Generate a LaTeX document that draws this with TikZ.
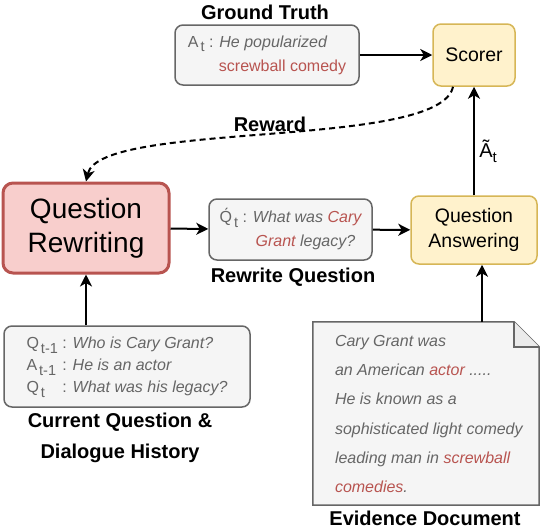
\documentclass[tikz,border=0pt]{standalone}
\usepackage{fontspec}
\setmainfont{Liberation Sans}
\usetikzlibrary{arrows.meta,positioning}

\definecolor{greyfill}{HTML}{F5F5F5}
\definecolor{greydraw}{HTML}{666666}
\definecolor{redfill}{HTML}{F8CECC}
\definecolor{reddraw}{HTML}{B85450}
\definecolor{yellowfill}{HTML}{FFF2CC}
\definecolor{yellowdraw}{HTML}{D6B656}

\newcommand{\lowsub}[1]{\hspace{2pt}\raisebox{-4.5pt}{\fontsize{14.5}{16}\selectfont #1}}
\newcommand{\hl}[1]{\textcolor{reddraw}{#1}}

\tikzset{
	greybox/.style = {draw = greydraw, fill = greyfill, rounded corners = 8pt, line width = 1.5pt,
		text = greydraw, align = left, inner sep = 0pt, font = \fontsize{16}{24}\selectfont},
	yellowbox/.style = {draw = yellowdraw, fill = yellowfill, rounded corners = 8pt, line width = 1.5pt,
		align = center, inner sep = 0pt, font = \fontsize{19.5}{25}\selectfont},
	redbox/.style = {draw = reddraw, fill = redfill, rounded corners = 10pt, line width = 3pt,
		align = center, inner sep = 0pt, font = \fontsize{28}{34}\selectfont},
	caption/.style = {font = \bfseries\fontsize{20}{31}\selectfont, align = center},
	flow/.style = {line width = 2pt, -{Stealth[length = 12pt, width = 12pt, inset = 3.5pt]}}
}

\begin{document}
\begin{tikzpicture}[x = 1pt, y = -1pt]
	\useasboundingbox (0,0) rectangle (540,528);

	% boxes
	\node[greybox, minimum width = 184pt, minimum height = 60pt] (truth) at (267,55)
		{A\lowsub{t} : \textit{He popularized}\\ \hspace*{31pt}\hl{screwball comedy}};
	\node[yellowbox, minimum width = 82pt, minimum height = 62pt] (scorer) at (474,55) {Scorer};
	\node[redbox, minimum width = 166pt, minimum height = 90pt] (rewriting) at (86,228)
		{Question\\Rewriting};
	\node[greybox, minimum width = 163pt, minimum height = 61pt] (rewritten) at (290.5,229.5)
		{\'Q\lowsub{t} : \textit{What was \hl{Cary}}\\ \hspace*{36pt}\textit{\hl{Grant} legacy?}};
	\node[yellowbox, minimum width = 126pt, minimum height = 68pt] (answering) at (474,230)
		{Question\\Answering};
	\node[greybox, minimum width = 246pt, minimum height = 81pt, font = \fontsize{16}{22}\selectfont] (history) at (127,366.5)
		{\begin{tabular}{@{}l@{ : }l@{}}
			Q\lowsub{t-1} & \textit{Who is Cary Grant?}\\
			A\lowsub{t-1} & \textit{He is an actor}\\
			Q\lowsub{t} & \textit{What was his legacy?}
		\end{tabular}};

	% evidence document
	\node[minimum width = 226pt, minimum height = 183pt, inner sep = 0pt] (doc) at (426,413.5) {};
	\draw[draw = greydraw, fill = greyfill, line width = 1.5pt]
		(doc.south west) -- (doc.north west) -- ([xshift = -25pt]doc.north east)
		-- ([yshift = -25pt]doc.north east) -- (doc.south east) -- cycle;
	\draw[draw = greydraw, fill = black!8, line width = 1.5pt]
		([xshift = -25pt]doc.north east) -- ([xshift = -25pt, yshift = -25pt]doc.north east)
		-- ([yshift = -25pt]doc.north east);
	\node[text = greydraw, align = left, font = \itshape\fontsize{16}{29.3}\selectfont, anchor = north west, inner sep = 0pt]
		(doctext) at ([xshift = 22pt, yshift = -13pt]doc.north west)
		{Cary Grant was\\ an American \hl{actor} .....\\ He is known as a\\
		 sophisticated light comedy\\ leading man in \hl{screwball}\\ \hl{comedies}.};

	% captions
	\node[caption] (truthcap) at (265,12) {Ground Truth};
	\node[caption] (rewrittencap) at (293,277) {Rewrite Question};
	\node[caption] (historycap) at (120,437.5) {Current Question \&\\Dialogue History};
	\node[caption] (doccap) at (425,518) {Evidence Document};

	% connectors
	\draw[flow] (truth) -- (scorer);
	\draw[flow] (rewriting) -- (rewritten);
	\draw[flow] (rewritten) -- (answering);
	\draw[flow] (answering) -- (scorer) node[midway, right, font = \fontsize{20}{24}\selectfont, xshift = 1pt, yshift = -10pt]
		{\~A\raisebox{-5pt}{\fontsize{15}{18}\selectfont t}};
	\draw[flow] (history.north -| rewriting) -- (rewriting);
	\draw[flow] (doc.north -| 482,0) -- (answering.south -| 482,0);
	\draw[flow, dash pattern = on 6pt off 4pt]
		([xshift = -21pt]scorer.south) .. controls (440,150) and (100,120) .. (rewriting.north)
		node[pos = 0.5, yshift = 10pt, font = \bfseries\fontsize{20}{24}\selectfont] (reward) {Reward};
\end{tikzpicture}
\end{document}
